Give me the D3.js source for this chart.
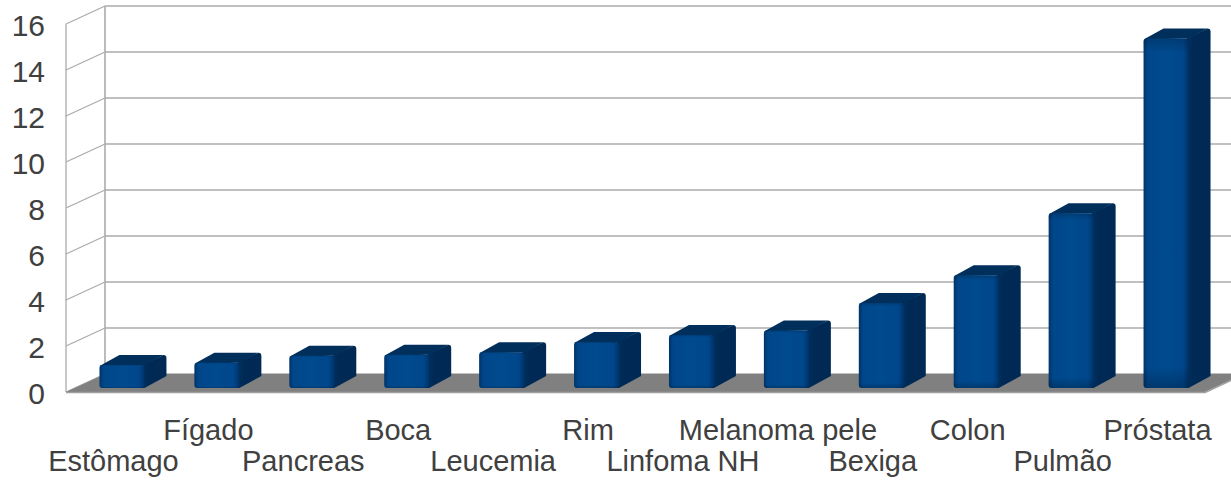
<!DOCTYPE html>
<html>
<head>
<meta charset="utf-8">
<script src="https://cdn.jsdelivr.net/npm/d3@7"></script>
<style>
  html, body { margin: 0; padding: 0; background: #ffffff; }
  svg { display: block; }
  text { font-family: "Liberation Sans", Arial, sans-serif; fill: #404040; }
</style>
</head>
<body>
<svg id="chart" width="1231" height="483"></svg>
<script>
// ---- data ----
const categories = ["Estômago", "Fígado", "Pancreas", "Boca", "Leucemia", "Rim",
  "Linfoma NH", "Melanoma pele", "Bexiga", "Colon", "Pulmão", "Próstata"];
const values = [1.0, 1.1, 1.4, 1.45, 1.55, 2.0, 2.3, 2.5, 3.7, 4.9, 7.6, 15.2];
const yTicks = [0, 2, 4, 6, 8, 10, 12, 14, 16];

// ---- layout ----
const W = 1231, H = 483;
const left = 66, right = 1205;
const y0 = 392, yTop = 24;
const depth = { dx: 39, dy: 18 };     // full depth of the floor / walls
const barDepth = { dx: 22, dy: 10 };  // depth of a bar
const barOff = { dx: (depth.dx - barDepth.dx) / 2, dy: (depth.dy - barDepth.dy) / 2 };

const svg = d3.select("#chart");

const x = d3.scaleBand().domain(categories).range([left, right]).padding(0);
const y = d3.scaleLinear().domain([0, 16]).range([y0, yTop]);
const bw = x.bandwidth() * 0.474;

// gradients
const defs = svg.append("defs");
const gF = defs.append("linearGradient").attr("id", "gFront").attr("x1", 0).attr("x2", 1).attr("y1", 0).attr("y2", 0);
[[0, "#00346a"], [0.1, "#00478a"], [0.5, "#004a8e"], [0.88, "#00468a"], [1, "#00336a"]]
  .forEach(([o, c]) => gF.append("stop").attr("offset", o).attr("stop-color", c));
const gS = defs.append("linearGradient").attr("id", "gSide").attr("x1", 0).attr("x2", 1).attr("y1", 0).attr("y2", 0);
[[0, "#002f5e"], [0.3, "#002a55"], [1, "#002a54"]]
  .forEach(([o, c]) => gS.append("stop").attr("offset", o).attr("stop-color", c));
const gV = defs.append("linearGradient").attr("id", "gVert").attr("x1", 0).attr("x2", 0).attr("y1", 0).attr("y2", 1);
[[0, "#000000", 0.18], [0.04, "#000000", 0], [0.94, "#000000", 0], [1, "#000000", 0.22]]
  .forEach(([o, c, a]) => gV.append("stop").attr("offset", o).attr("stop-color", c).attr("stop-opacity", a));

const gridColor = "#ababab";

// back wall gridlines
svg.append("g").selectAll("line").data(yTicks).join("line")
  .attr("x1", left + depth.dx).attr("x2", W + 20)
  .attr("y1", d => y(d) - depth.dy).attr("y2", d => y(d) - depth.dy)
  .attr("stroke", gridColor).attr("stroke-width", 1.6);

// side wall diagonals
svg.append("g").selectAll("line").data(yTicks).join("line")
  .attr("x1", left).attr("x2", left + depth.dx)
  .attr("y1", d => y(d)).attr("y2", d => y(d) - depth.dy)
  .attr("stroke", gridColor).attr("stroke-width", 1.3);

// wall verticals
svg.append("line").attr("x1", left + depth.dx).attr("x2", left + depth.dx)
  .attr("y1", y(16) - depth.dy).attr("y2", y(0) - depth.dy)
  .attr("stroke", gridColor).attr("stroke-width", 1.6);
svg.append("line").attr("x1", left).attr("x2", left)
  .attr("y1", y(16)).attr("y2", y(0))
  .attr("stroke", gridColor).attr("stroke-width", 1.3);

// floor
svg.append("path")
  .attr("d", `M${left},${y0} L${right},${y0} L${right + depth.dx},${y0 - depth.dy} L${left + depth.dx},${y0 - depth.dy} Z`)
  .attr("fill", "#808080");
svg.append("line").attr("x1", left).attr("x2", right).attr("y1", y0 + 0.5).attr("y2", y0 + 0.5)
  .attr("stroke", "#a0a0a0").attr("stroke-width", 1.5);
svg.append("line").attr("x1", right).attr("x2", right + depth.dx).attr("y1", y0 + 0.5).attr("y2", y0 - depth.dy + 0.5)
  .attr("stroke", "#a0a0a0").attr("stroke-width", 1.5);

// bars
const data = categories.map((c, i) => ({ c, v: values[i], i }));
const bars = svg.append("g").selectAll("g").data(data).join("g");
bars.each(function (d) {
  const g = d3.select(this);
  const xl = x(d.c) + (x.bandwidth() - bw) / 2 + barOff.dx;
  const xr = xl + bw;
  const yt = y(d.v) - barOff.dy;
  const yb = y(0) - barOff.dy;
  const dx = barDepth.dx, dy = barDepth.dy;
  // side
  g.append("path")
    .attr("d", `M${xr - 2},${yt} L${xr + dx - 3},${yt - dy} Q${xr + dx},${yt - dy} ${xr + dx},${yt - dy + 3} L${xr + dx},${yb - dy - 2} L${xr},${yb} L${xr - 2},${yb} Z`)
    .attr("fill", "url(#gSide)");
  // top
  g.append("path")
    .attr("d", `M${xl},${yt + 1} L${xl + dx - 2},${yt - dy} L${xr + dx - 3},${yt - dy} L${xr},${yt} Z`)
    .attr("fill", "#002f5c");
  // front
  g.append("rect").attr("x", xl).attr("y", yt).attr("width", bw).attr("height", yb - yt)
    .attr("rx", 3).attr("fill", "url(#gFront)");
  g.append("rect").attr("x", xl).attr("y", yt).attr("width", bw).attr("height", yb - yt)
    .attr("rx", 3).attr("fill", "url(#gVert)");
});

// y tick labels
svg.append("g").selectAll("text").data(yTicks).join("text")
  .attr("x", 45).attr("y", d => y(d) + 1)
  .attr("text-anchor", "end").attr("dominant-baseline", "central")
  .style("font-size", "30px")
  .text(d => d);

// x labels (staggered)
svg.append("g").selectAll("text").data(data).join("text")
  .attr("x", d => x(d.c) + x.bandwidth() / 2)
  .attr("y", d => d.i % 2 === 0 ? 471 : 440)
  .attr("text-anchor", "middle")
  .style("font-size", "29px")
  .text(d => d.c);
</script>
</body>
</html>
